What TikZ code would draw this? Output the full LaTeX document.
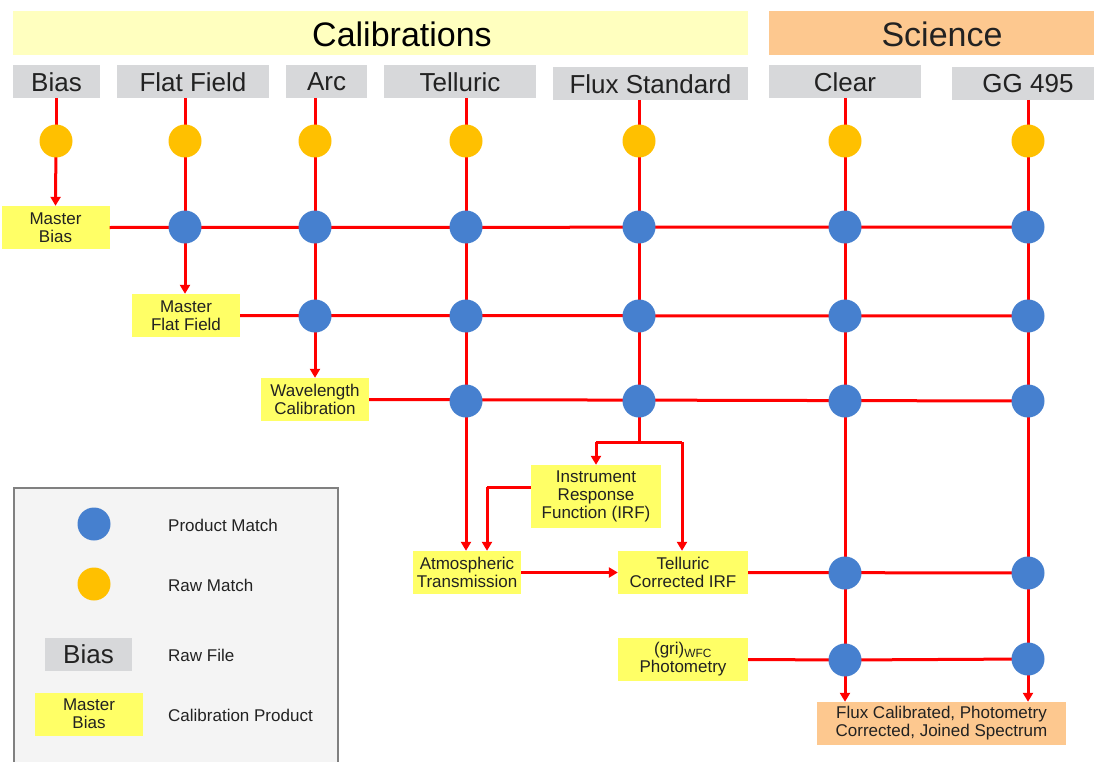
\documentclass[tikz,border=0pt]{standalone}
\usepackage{fontspec}
\setmainfont{Liberation Sans}
\usetikzlibrary{arrows.meta}
\definecolor{txt}{HTML}{222222}
\definecolor{grayb}{HTML}{D7D8DA}
\definecolor{yelb}{HTML}{FFFF66}
\definecolor{paley}{HTML}{FFFFBF}
\definecolor{orb}{HTML}{FDC88F}
\definecolor{dotb}{HTML}{4680CF}
\definecolor{doto}{HTML}{FFC000}
\definecolor{linkr}{HTML}{FF0000}
\definecolor{legf}{HTML}{F4F4F4}
\definecolor{legd}{HTML}{808080}
\tikzset{
  rawbox/.style={fill=grayb, inner sep=0, minimum height=33, text=txt, font=\fontsize{26}{26}\selectfont},
  prodbox/.style={fill=yelb, inner sep=0, minimum height=43, minimum width=108, align=center, text=txt, font=\fontsize{17}{18}\selectfont},
  sectbox/.style={inner sep=0, minimum height=44},
  secttext/.style={inner sep=0, font=\fontsize{34}{34}\selectfont},
  bdot/.style={circle, fill=dotb, inner sep=0, minimum size=33},
  odot/.style={circle, fill=doto, inner sep=0, minimum size=33},
  link/.style={draw=linkr, line width=3},
  arr/.style={link, -{Triangle[length=9,width=10]}},
  legtext/.style={anchor=west, text=txt, font=\fontsize{17}{18}\selectfont, inner sep=0}
}
\begin{document}
\begin{tikzpicture}[x=1pt,y=-1pt]
\clip (0,0) rectangle (1094,762);
\fill[white] (0,0) rectangle (1094,762);

% section headers
\node[sectbox, fill=paley, minimum width=735] (cal) at (380.5,33) {};
\node[secttext, text=black] (calT) at (402,34) {Calibrations};
\node[sectbox, fill=orb, minimum width=325] (sci) at (931.5,33) {};
\node[secttext, text=txt] (sciT) at (942,34) {Science};

% raw file boxes
\node[rawbox, minimum width=87]  (rBias)  at (56.5,82)  {Bias};
\node[rawbox, minimum width=152] (rFlat)  at (193,82)   {Flat Field};
\node[rawbox, minimum width=81]  (rArc)   at (326.5,82) {Arc};
\node[rawbox, minimum width=152] (rTell)  at (460,82)   {Telluric};
\node[rawbox, minimum width=195] (rFlux)  at (650.5,84) {Flux Standard};
\node[rawbox, minimum width=152] (rClear) at (845,82)   {Clear};
\node[rawbox, minimum width=152] (rGG)    at (1028,84)  {GG 495};

% column coordinates
\coordinate (cBias) at (56,98);
\coordinate (cFlat) at (185,98);
\coordinate (cArc) at (315,98);
\coordinate (cTell) at (466,98);
\coordinate (cFlux) at (639,100);
\coordinate (cClear) at (845,98);
\coordinate (cGG) at (1028,100);

% products
\node[prodbox] (mBias) at (55.5,227.5) {Master\\Bias};
\node[prodbox] (mFlat) at (186,315.5) {Master\\Flat Field};
\node[prodbox] (mWave) at (315,399.5) {Wavelength\\Calibration};
\node[prodbox, minimum width=130, minimum height=63] (mIRF) at (596,496.5) {Instrument\\Response\\Function (IRF)};
\node[prodbox] (mAtm) at (467,572.5) {Atmospheric\\Transmission};
\node[prodbox, minimum width=130] (mTIRF) at (683,572.5) {Telluric\\Corrected IRF};
\node[prodbox, minimum width=130] (mPhot) at (683,659.5) {(gri)$_{\mathrm{\fontsize{10}{10}\selectfont WFC}}$\\Photometry};
\node[prodbox, fill=orb, minimum width=249] (mFinal) at (941.5,723.5) {Flux Calibrated, Photometry\\Corrected, Joined Spectrum};

% column lines (drawn first, under dots)
\draw[link] (cBias) -- (56,141);
\draw[arr] (56,141) -- (mBias.north);
\draw[link] (cFlat) -- (185,227);
\draw[arr] (185,227) -- (mFlat.north -| 185,0);
\draw[link] (cArc) -- (315,316);
\draw[arr] (315,316) -- (mWave.north);
\draw[link] (cTell) -- (466,401);
\draw[arr] (466,401) -- (mAtm.north -| 466,0);
\draw[link] (cFlux) -- (639,442);
\coordinate (brL) at (596,442);
\coordinate (brR) at (682,442);
\draw[link] (639,442) -- (brL);
\draw[arr] (brL) -- (mIRF.north);
\draw[link] (639,442) -- (brR);
\draw[arr] (brR) -- (mTIRF.north -| brR);
\draw[link] (cClear) -- (845,660);
\draw[arr] (845,660) -- (mFinal.north -| 845,0);
\draw[link] (cGG) -- (1028,659);
\draw[arr] (1028,659) -- (mFinal.north -| 1028,0);

% rows
\draw[link] (mBias.east) -- (1028,227);
\draw[link] (mFlat.east) -- (1028,316);
\draw[link] (mWave.east) -- (1028,401);
\coordinate (irfL) at (487,487);
\draw[link] (mIRF.west |- irfL) -- (irfL);
\draw[arr] (irfL) -- (mAtm.north -| irfL);
\draw[arr] (mAtm.east) -- (mTIRF.west);
\draw[link] (mTIRF.east) -- (1028,573);
\draw[link] (mPhot.east) -- (845,660) -- (1028,659);

% raw match dots
\foreach \n/\x in {Bias/56,Flat/185,Arc/315,Tell/466,Flux/639,Clear/845,GG/1028}
  \node[odot] (o\n) at (\x,141) {};

% product match dots
\foreach \n/\x in {Flat/185,Arc/315,Tell/466,Flux/639,Clear/845,GG/1028}
  \node[bdot] (a\n) at (\x,227) {};
\foreach \n/\x in {Arc/315,Tell/466,Flux/639,Clear/845,GG/1028}
  \node[bdot] (b\n) at (\x,316) {};
\foreach \n/\x in {Tell/466,Flux/639,Clear/845,GG/1028}
  \node[bdot] (c\n) at (\x,401) {};
\node[bdot] (dClear) at (845,573) {};
\node[bdot] (dGG) at (1028,573) {};
\node[bdot] (eClear) at (845,660) {};
\node[bdot] (eGG) at (1028,659) {};

% legend
\node[draw=legd, line width=2, fill=legf, inner sep=0, minimum width=324, minimum height=290, anchor=north west] (legend) at (13,487) {};
\node[bdot] (lgB) at (94,524) {};
\node[legtext] (lgBt) at (168,525) {Product Match};
\node[odot] (lgO) at (94,584) {};
\node[legtext] (lgOt) at (168,585) {Raw Match};
\node[rawbox, minimum width=87] (lgR) at (88.5,654.5) {Bias};
\node[legtext] (lgRt) at (168,655) {Raw File};
\node[prodbox] (lgP) at (89,714) {Master\\Bias};
\node[legtext] (lgPt) at (168,715) {Calibration Product};
\end{tikzpicture}
\end{document}
